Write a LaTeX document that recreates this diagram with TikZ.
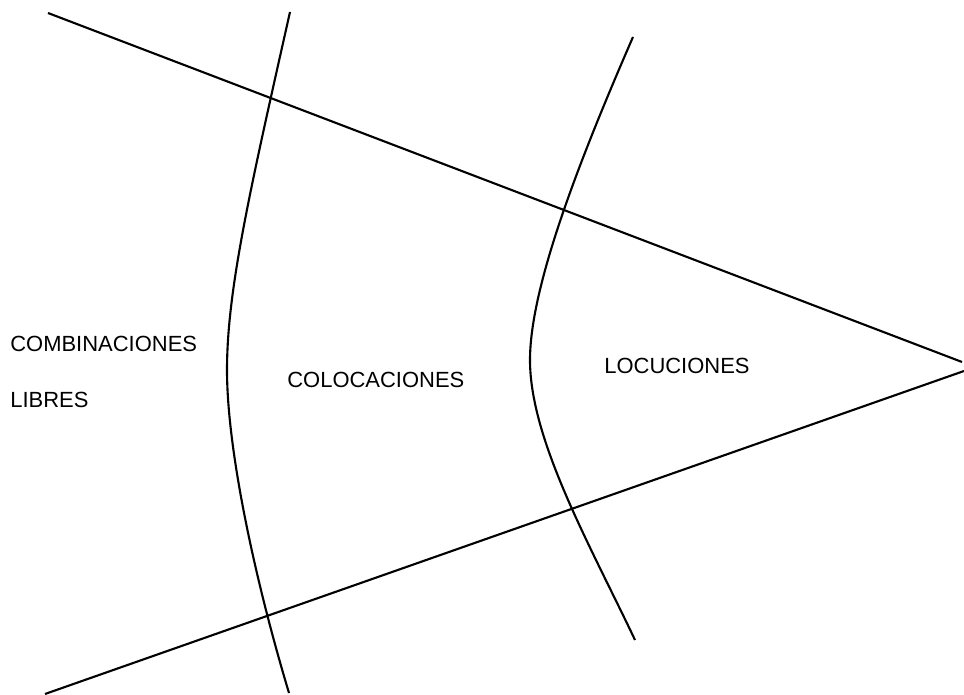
\documentclass[tikz,border=0pt]{standalone}
\usepackage{fontspec}
\setmainfont{Liberation Sans}
\usepackage{tikz}
\usetikzlibrary{positioning}

\begin{document}
\begin{tikzpicture}[
  x=0.02cm, y=-0.02cm,
  font=\fontsize{12.5}{15}\selectfont,
  label/.style={inner sep=0pt, anchor=west},
  border/.style={line width=1.2pt, draw=black},
  frontier/.style={line width=1.2pt, draw=black}
]
\useasboundingbox (0,0) rectangle (964,695);
% vertex and open ends of the wedge
\coordinate (tipU) at (962,362);
\coordinate (tipL) at (964,371);
\coordinate (upL) at (48,13);
\coordinate (loL) at (45,694);
\draw[border] (upL) -- (tipU);
\draw[border] (loL) -- (tipL);
% frontiers between the zones
\coordinate (a1) at (290,12);
\coordinate (a2) at (227,370);
\coordinate (a3) at (289,693);
\coordinate (b1) at (633,37);
\coordinate (b2) at (530,360);
\coordinate (b3) at (635,640);
\draw[frontier] (a1) .. controls (250,190) and (227,290) .. (a2)
  .. controls (227,450) and (255,580) .. (a3);
\draw[frontier] (b1) .. controls (575,170) and (530,290) .. (b2)
  .. controls (530,440) and (590,545) .. (b3);
% zone names
\node[label] (libres1) at (10,344) {COMBINACIONES};
\node[label] (libres2) at (10,400) {LIBRES};
\node[label] (coloc) at (287,380) {COLOCACIONES};
\node[label] (locuc) at (604,366) {LOCUCIONES};
\end{tikzpicture}
\end{document}
